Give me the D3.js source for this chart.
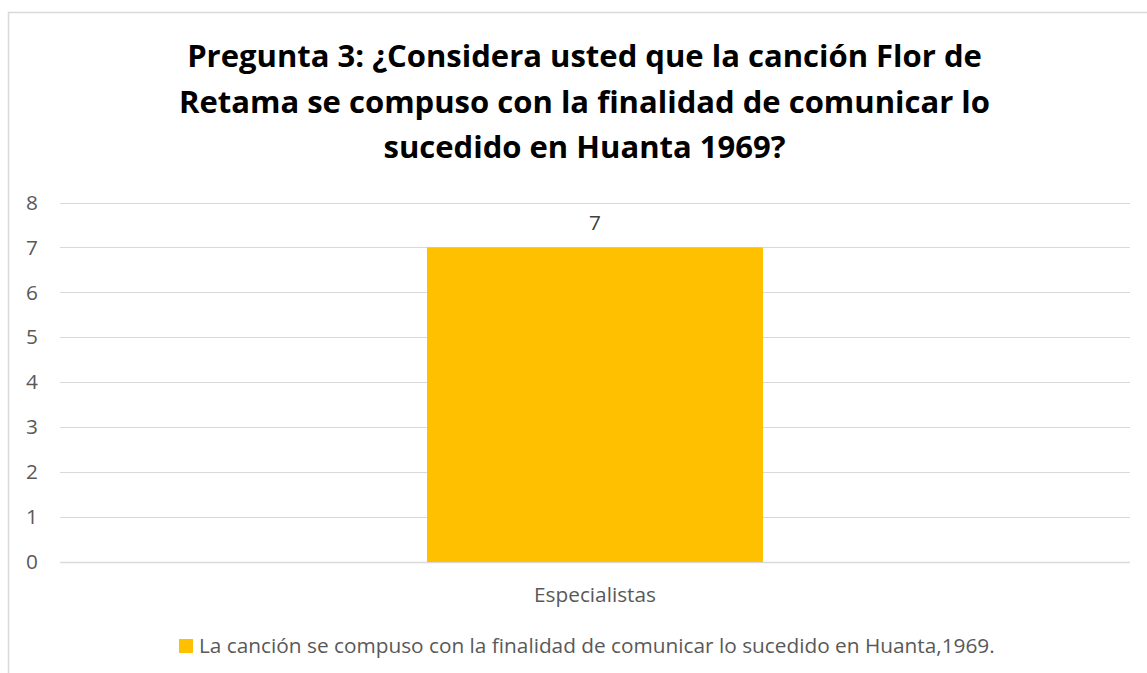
<!DOCTYPE html>
<html><head><meta charset="utf-8">
<script src="https://cdn.jsdelivr.net/npm/d3@7"></script>
<style>
body{margin:0;background:#fff;}
svg{display:block;}
text{font-family:"Open Sans", "Noto Sans", sans-serif;}
</style></head>
<body><svg id="c" width="1147" height="673"></svg>
<script>
const titleLines = ["Pregunta 3: ¿Considera usted que la canción Flor de","Retama se compuso con la finalidad de comunicar lo","sucedido en Huanta 1969?"];
const categories = ["Especialistas"];
const values = [7];
const seriesName = "La canción se compuso con la finalidad de comunicar lo sucedido en Huanta,1969.";
const yTicks = [0,1,2,3,4,5,6,7,8];

const svg = d3.select("#c");
function fit(sel, w){
  const n = sel.node(); const s = parseFloat(sel.attr("font-size"));
  const cw = n.getComputedTextLength();
  sel.attr("font-size", (s*w/cw).toFixed(2));
}
svg.append("rect").attr("x",8.5).attr("y",12.5).attr("width",1160).attr("height",700)
  .attr("fill","#fff").attr("stroke","#d9d9d9").attr("stroke-width",1.5);

const t = svg.append("text").attr("text-anchor","middle").attr("font-weight","bold")
  .attr("font-size",28).attr("fill","#000");
titleLines.forEach((l,i)=>t.append("tspan").attr("x",584.5).attr("y",67+i*45.5).text(l));
{ const w = t.select("tspan").node().getComputedTextLength(); t.attr("font-size",(28*795/w).toFixed(2)); }

const x = d3.scaleBand().domain(categories).range([60,1130]).paddingInner(0.5).paddingOuter(0.343);
const y = d3.scaleLinear().domain([0,8]).range([562,202.5]);

const grid = svg.append("g");
grid.selectAll("line").data(yTicks).join("line")
  .attr("x1",60).attr("x2",1130).attr("y1",d=>Math.round(y(d))+0.5).attr("y2",d=>Math.round(y(d))+0.5)
  .attr("stroke","#d9d9d9").attr("stroke-width",d=>d===0?1.5:1);

const cat = svg.append("text").attr("font-size",18).text(categories[0]);
fit(cat, 122); const fs = parseFloat(cat.attr("font-size")); cat.remove();

const yAxis = d3.axisLeft(y).tickValues(yTicks).tickSize(0).tickPadding(0).tickFormat(d3.format("d"));
const ga = svg.append("g").attr("transform","translate(38,0)").call(yAxis);
ga.select(".domain").remove();
ga.selectAll("text").attr("font-size",fs).attr("fill","#595959").attr("font-family",null);

const bw = 336;
svg.selectAll("rect.bar").data(values).join("rect").attr("class","bar")
  .attr("x",(d,i)=>x(categories[i])+x.bandwidth()/2-bw/2).attr("width",bw)
  .attr("y",d=>y(d)).attr("height",d=>y(0)-y(d)).attr("fill","#ffc000");

svg.selectAll("text.lbl").data(values).join("text").attr("class","lbl")
  .attr("x",(d,i)=>x(categories[i])+x.bandwidth()/2).attr("y",d=>y(d)-17)
  .attr("text-anchor","middle").attr("font-size",fs).attr("fill","#404040").text(d=>d);

const xAxis = d3.axisBottom(x).tickSize(0).tickPadding(0);
const gx = svg.append("g").attr("transform","translate(0,602)").call(xAxis);
gx.select(".domain").remove();
gx.selectAll("text").attr("font-size",fs).attr("fill","#595959").attr("dy",0).attr("font-family",null);

const lg = svg.append("g");
lg.append("rect").attr("x",179).attr("y",639).attr("width",14).attr("height",14).attr("fill","#ffc000");
const lt = lg.append("text").attr("x",199).attr("y",653).attr("font-size",18).attr("fill","#595959").text(seriesName);
fit(lt, 796);
</script></body></html>
